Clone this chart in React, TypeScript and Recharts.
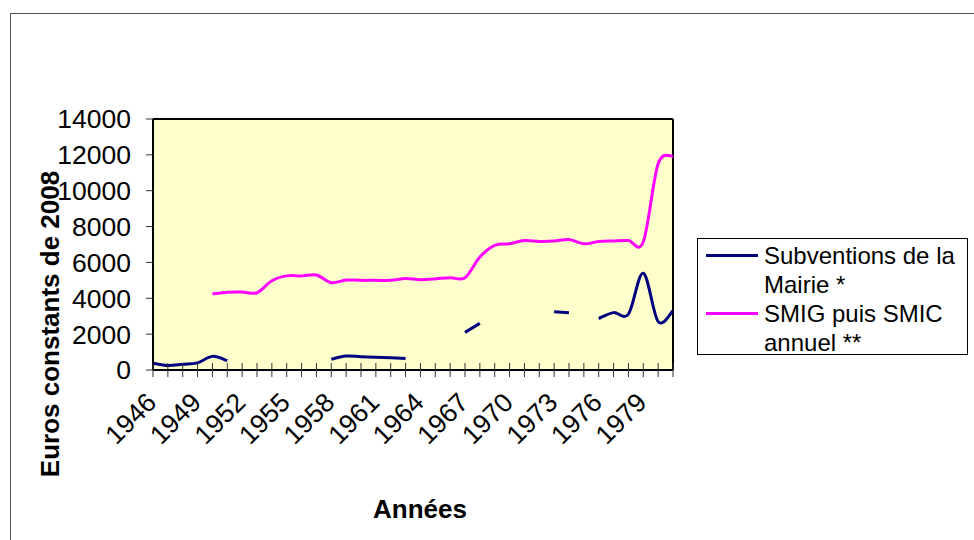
import React from 'react';
import { LineChart, Line, XAxis, YAxis, CartesianGrid, Legend, ReferenceLine } from 'recharts';

const years = [
  '1946', '1947', '1948', '1949', '1950', '1951', '1952', '1953', '1954', '1955', '1956', '1957',
  '1958', '1959', '1960', '1961', '1962', '1963', '1964', '1965', '1966', '1967', '1968', '1969',
  '1970', '1971', '1972', '1973', '1974', '1975', '1976', '1977', '1978', '1979', '1980', '1981',
];

// Subventions de la Mairie (gaps = no data)
const subventions = [
  380, 250, 320, 400, 760, 520, null, null, null, null, null, null,
  600, 780, 740, 710, 680, 640, null, null, null, 2100, 2600, null,
  null, null, null, 3250, 3200, null, 2870, 3200, 3120, 5400, 2700, 3300,
];

// SMIG puis SMIC annuel
const smic = [
  null, null, null, null, 4240, 4340, 4350, 4310, 4980, 5250, 5250, 5300,
  4870, 5020, 5000, 5000, 5000, 5100, 5040, 5080, 5150, 5150, 6300, 6950,
  7040, 7220, 7170, 7190, 7280, 7040, 7170, 7200, 7220, 7150, 11500, 11930,
];

const yTicks = [0, 2000, 4000, 6000, 8000, 10000, 12000, 14000];

const seriesNames = ['Subventions de la Mairie *', 'SMIG puis SMIC annuel **'];

const data = years.map((year, i) => ({ year, subventions: subventions[i], smic: smic[i] }));

const FONT = '"Liberation Sans", Arial, sans-serif';
const PLOT_BOTTOM = 370;

// smoothing close to Excel's "smoothed line" (Catmull-Rom style bezier)
const excelCurve = (context: any) => {
  let pts: number[][] = [];
  return {
    areaStart() {},
    areaEnd() {},
    lineStart() {
      pts = [];
    },
    point(x: number, y: number) {
      pts.push([+x, +y]);
    },
    lineEnd() {
      const n = pts.length;
      if (!n) return;
      context.moveTo(pts[0][0], pts[0][1]);
      if (n === 1) {
        context.lineTo(pts[0][0], pts[0][1]);
        return;
      }
      for (let i = 0; i < n - 1; i++) {
        const p0 = pts[Math.max(i - 1, 0)];
        const p1 = pts[i];
        const p2 = pts[i + 1];
        const p3 = pts[Math.min(i + 2, n - 1)];
        context.bezierCurveTo(
          p1[0] + (p2[0] - p0[0]) / 6,
          p1[1] + (p2[1] - p0[1]) / 6,
          p2[0] - (p3[0] - p1[0]) / 6,
          p2[1] - (p3[1] - p1[1]) / 6,
          p2[0],
          p2[1]
        );
      }
    },
  };
};

const YearTick = (props: any) => {
  const { x, index, payload } = props;
  return (
    <g>
      <line x1={x} x2={x} y1={PLOT_BOTTOM - 7} y2={PLOT_BOTTOM + 7} stroke="#333" strokeWidth={1} />
      {index % 3 === 0 && (
        <text
          transform={`translate(${x + 5},${PLOT_BOTTOM + 34}) rotate(-45)`}
          textAnchor="end"
          fontSize={26.5}
          fontFamily={FONT}
          fill="#000"
        >
          {payload.value}
        </text>
      )}
    </g>
  );
};

const YTitle = () => (
  <text
    x={50}
    y={324}
    transform="rotate(-90 50 324)"
    textAnchor="middle"
    dominantBaseline="central"
    fontSize={26}
    fontWeight="bold"
    fontFamily={FONT}
    fill="#000"
  >
    Euros constants de 2008
  </text>
);

const XTitle = () => (
  <text x={420} y={518} textAnchor="middle" fontSize={26} fontWeight="bold" fontFamily={FONT} fill="#000">
    Années
  </text>
);

const LegendBox = (props: any) => {
  const items = [...(props.payload || [])].sort(
    (a: any, b: any) => seriesNames.indexOf(a.value) - seriesNames.indexOf(b.value)
  );
  return (
    <div
      style={{
        border: '1px solid #000',
        background: '#fff',
        boxSizing: 'border-box',
        width: 271,
        height: 117,
        padding: '2px 0 0 8px',
        fontFamily: FONT,
        fontSize: 24,
        lineHeight: '29px',
        color: '#000',
      }}
    >
      {items.map((p: any) => (
        <div key={p.value} style={{ display: 'flex', alignItems: 'flex-start' }}>
          <div style={{ width: 52, height: 29, position: 'relative', flex: 'none' }}>
            <div style={{ position: 'absolute', left: 0, right: 0, top: 13, height: 3, background: p.color }} />
          </div>
          <div style={{ width: 200, marginLeft: 6 }}>{p.value}</div>
        </div>
      ))}
    </div>
  );
};

export default function App() {
  return (
    <div style={{ position: 'absolute', left: 0, top: 0, width: 974, height: 540, overflow: 'hidden', background: '#fff' }}>
      <div
        style={{
          position: 'absolute',
          left: 10,
          top: 13,
          width: 980,
          height: 560,
          border: '1px solid #555',
        }}
      />
      <div style={{ position: 'absolute', left: 0, top: 0 }}>
        <LineChart width={974} height={540} data={data} margin={{ top: 119, right: 301, bottom: 140, left: 0 }}>
          <CartesianGrid horizontal={false} vertical={false} fill="#FFFFCC" fillOpacity={1} />
          <XAxis
            dataKey="year"
            interval={0}
            height={30}
            tick={<YearTick />}
            tickLine={false}
            axisLine={{ stroke: '#000', strokeWidth: 2 }}
            label={<XTitle />}
          />
          <YAxis
            width={153}
            domain={[0, 14000]}
            ticks={yTicks}
            interval={0}
            tickSize={7}
            tickMargin={15}
            tickLine={{ stroke: '#333' }}
            axisLine={{ stroke: '#000', strokeWidth: 2 }}
            tick={{ fontSize: 26.5, fontFamily: FONT, fill: '#000' }}
            label={<YTitle />}
          />
          <ReferenceLine y={14000} stroke="#000" strokeWidth={2} />
          <ReferenceLine x="1981" stroke="#000" strokeWidth={2} />
          <Legend
            layout="vertical"
            align="center"
            verticalAlign="middle"
            wrapperStyle={{ left: 697, top: 238, width: 271, height: 117 }}
            content={<LegendBox />}
          />
          <Line
            name={seriesNames[0]}
            dataKey="subventions"
            type={excelCurve as any}
            stroke="#000080"
            strokeWidth={3}
            dot={false}
            activeDot={false}
            isAnimationActive={false}
          />
          <Line
            name={seriesNames[1]}
            dataKey="smic"
            type={excelCurve as any}
            stroke="#FF00FF"
            strokeWidth={3}
            dot={false}
            activeDot={false}
            isAnimationActive={false}
          />
        </LineChart>
      </div>
    </div>
  );
}
